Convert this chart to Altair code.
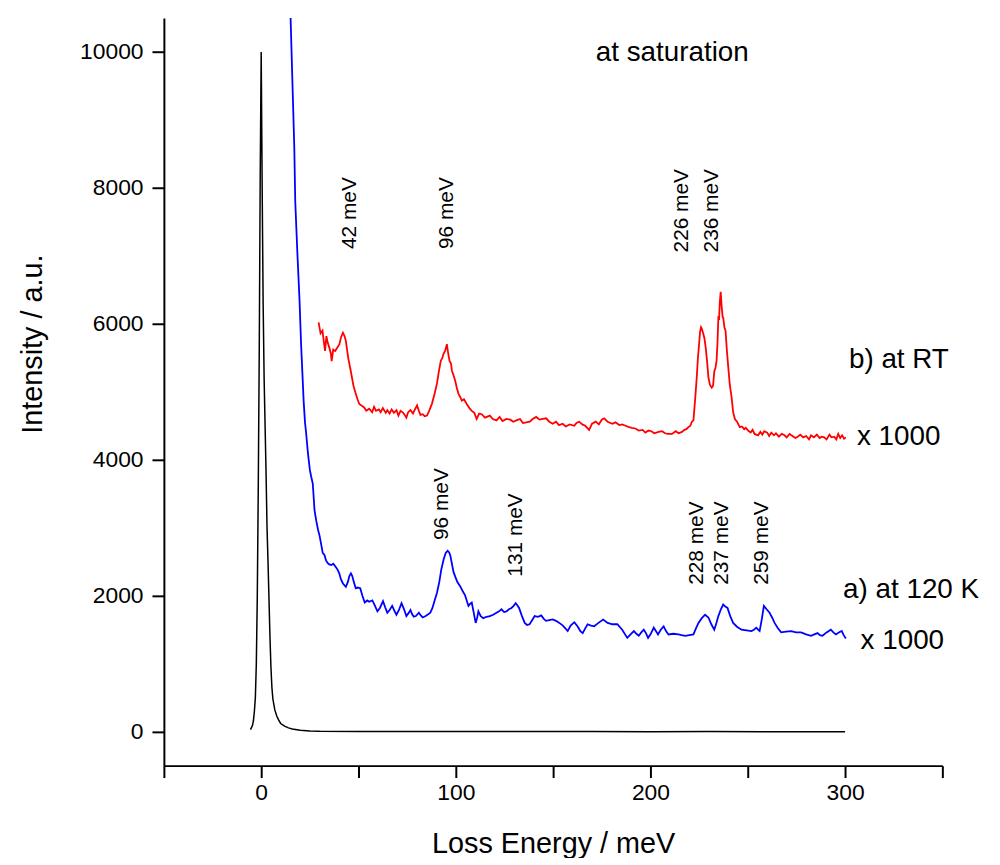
import altair as alt
import pandas as pd

# ---------------- data ----------------
black_x = [-5.5, -4.5, -4, -3.5, -3, -2.5, -2, -1.5, -1, -0.5, 0, 0.5, 1, 1.5, 2, 2.5, 3, 3.5, 4, 4.5,
           5, 5.5, 6, 7, 8, 9, 10, 12, 14, 16, 20, 25, 30, 50, 80, 110, 140, 170, 200, 230, 260, 300]
black_y = [30, 90, 160, 300, 500, 1000, 2000, 3600, 5600, 8200, 10000, 8000, 6300, 5200, 4500, 3800,
           3000, 2500, 1950, 1400, 950, 650, 480, 320, 230, 170, 120, 80, 55, 40, 20, 10, 6, 3, 2, 2, 1, 2, 0, 2, 0, 0]

red_x = [29.5, 30.5, 31.5, 32, 32.8, 33.5, 34.2, 35, 35.8, 36.2, 37, 38, 39.3, 40.2, 41, 42, 42.8, 43.5,
         44.7, 46, 47.4, 48.6, 49.5, 50.4, 51.5, 52.9, 54, 55.5, 57, 58, 59, 60.5, 61.4, 62.5, 64, 64.8,
         66, 67, 68.2, 69.5, 70.5, 71.6, 73, 74.6, 75.5, 76.7, 78, 79, 80.1, 81, 81.8, 83, 84, 85.2, 86.3,
         87.8, 89, 90.3, 91.3, 92.3, 93, 93.7, 94.5, 95.4, 96, 96.8, 97.5, 98, 99, 99.7, 100.5, 101.4,
         102.3, 103.1, 104.2, 105.6, 107, 108.2, 109.5, 110.7, 112, 113.3, 115, 117.5, 119, 120.9, 122.5,
         124, 126, 128, 129.5, 131.1, 133, 134.5, 136.2, 138, 139.5, 141.3, 143, 144.7, 146.4, 148, 149.8,
         151.5, 153, 154.9, 156.5, 158.5, 160.9, 162, 163.4, 165, 166.5, 168.5, 170, 171.9, 173.5, 175,
         176.2, 178, 180.5, 182, 184, 185.5, 187.2, 189, 190.5, 192.3, 194, 196, 197.4, 199, 200.5, 202,
         204.2, 206, 207.5, 209, 211.1, 213, 214.5, 216.2, 217.5, 218.5, 219.5, 220.5, 221.3, 222.1, 223,
         223.8, 224.4, 225, 225.5, 226, 226.5, 227.2, 227.8, 228.4, 229.1, 229.8, 230.6, 231.5, 232.2,
         232.8, 233.4, 234, 234.5, 234.9, 235.3, 235.6, 236.1, 236.6, 237.1, 237.4, 238, 238.6, 239.3, 240,
         240.8, 241.7, 242.5, 243.4, 244.5, 245.9, 247, 248.2, 249, 250.2, 251.5, 252.5, 253.5, 255.3,
         256.5, 257.5, 258.5, 260, 261, 262.1, 263.5, 264.5, 266, 267.5, 268.9, 270, 271.5, 273, 274.5,
         275.7, 277, 278.5, 280, 281.5, 282.5, 284, 285.5, 287, 288, 289.3, 290.5, 292, 293, 294.4, 295.5,
         296.5, 297.5, 298.5, 299.5, 300.4]
red_y = [6020, 5860, 5900, 5780, 5600, 5820, 5720, 5650, 5560, 5450, 5620, 5600, 5660, 5700, 5800, 5870,
         5820, 5750, 5500, 5310, 5090, 4970, 4890, 4820, 4800, 4770, 4720, 4750, 4700, 4780, 4720, 4740,
         4700, 4760, 4690, 4730, 4680, 4740, 4690, 4730, 4650, 4720, 4690, 4620, 4700, 4730, 4680, 4740,
         4800, 4720, 4660, 4670, 4640, 4650, 4720, 4830, 4960, 5120, 5300, 5460, 5490, 5560, 5600, 5700,
         5580, 5450, 5420, 5310, 5230, 5160, 5060, 4970, 4920, 4870, 4890, 4820, 4760, 4720, 4690, 4600,
         4680, 4670, 4620, 4650, 4600, 4580, 4630, 4570, 4600, 4590, 4560, 4580, 4600, 4540, 4550, 4560,
         4600, 4630, 4590, 4600, 4610, 4560, 4530, 4560, 4510, 4530, 4490, 4520, 4500, 4540, 4560, 4520,
         4500, 4440, 4530, 4560, 4520, 4590, 4610, 4560, 4530, 4550, 4510, 4520, 4500, 4480, 4470, 4460,
         4430, 4440, 4400, 4430, 4420, 4390, 4410, 4420, 4390, 4380, 4380, 4420, 4390, 4410, 4440, 4450,
         4480, 4500, 4560, 4580, 4900, 5210, 5500, 5700, 5880, 5950, 5920, 5850, 5780, 5650, 5450, 5210,
         5100, 5060, 5090, 5300, 5350, 5460, 5750, 6090, 6080, 6300, 6470, 6250, 6100, 6090, 5950, 5900,
         5600, 5360, 5100, 4920, 4700, 4600, 4560, 4480, 4490, 4450, 4470, 4430, 4400, 4440, 4380, 4360,
         4410, 4370, 4420, 4400, 4350, 4400, 4360, 4390, 4340, 4380, 4360, 4330, 4380, 4350, 4320, 4340,
         4370, 4330, 4350, 4300, 4360, 4330, 4370, 4320, 4340, 4330, 4300, 4370, 4330, 4340, 4300, 4380,
         4320, 4360, 4310, 4330]

blue_x = [14, 15.1, 16, 17, 17.5, 18.5, 19.7, 20.5, 21.8, 22.5, 23.1, 24, 25, 25.7, 26.5, 27.4, 28.3, 29.2,
          30, 30.8, 31.6, 32.5, 33.3, 34.2, 35, 36, 37, 37.6, 38.4, 39.3, 40.1, 41, 42, 43.5, 44.5, 45.3,
          46.1, 46.8, 47.6, 48.6, 49.5, 50.9, 52, 53.2, 54.5, 55.5, 57.1, 58.3, 59.7, 61, 62.6, 63.7, 64.8,
          66, 67.3, 68.4, 69.5, 70.8, 72.1, 73.4, 74.6, 75.6, 76.7, 77.5, 78.4, 79.5, 81, 82, 83, 84.5, 86,
          86.9, 88, 89, 90.3, 91.5, 92.5, 93.7, 94.8, 95.8, 96.5, 97.1, 98, 98.8, 99.7, 100.8, 102.2, 103.5,
          104.7, 105.6, 106.5, 107.3, 108.2, 109.2, 110.2, 111, 111.6, 112.8, 114.1, 115.8, 117.5, 119.2,
          120.9, 122.2, 123.5, 124.8, 126, 127.3, 128.6, 129.7, 130.8, 131.6, 132.5, 134, 135.4, 136.6,
          137.9, 139.2, 140.5, 142.2, 143.9, 145.2, 146.4, 148, 149.8, 151.5, 153.2, 155, 156.3, 157.5, 159,
          160.9, 162.5, 164, 165.2, 166.5, 167.7, 169.5, 171.1, 173.3, 175.7, 178, 180.5, 183, 185.5, 188.1,
          189.8, 191.5, 192.8, 194, 195.3, 196.6, 197.7, 198.8, 200.2, 201.7, 202.8, 203.9, 205.3, 206.8,
          208, 209.3, 211.8, 214.4, 216, 217.9, 220, 222.1, 223.4, 224.7, 226.4, 228.1, 229.8, 231.3, 232.8,
          233.9, 234.9, 236.2, 237.4, 238.5, 239.6, 241, 242.5, 244.6, 246.8, 249.4, 251.9, 253.2, 254.4,
          255.3, 256.1, 257.2, 258.3, 259.7, 261.2, 262.5, 263.8, 265.5, 267.2, 269.7, 272.3, 274.8, 277.4,
          280, 282.5, 284.2, 285.9, 287.1, 288.4, 290.5, 292.7, 294, 295.3, 296.8, 298.3, 299.3, 300.4]
blue_y = [12500, 10500, 9600, 8600, 7800, 7100, 6340, 5700, 4870, 4550, 4390, 4100, 3850, 3750, 3650, 3260,
          3100, 2970, 2880, 2760, 2630, 2600, 2520, 2480, 2460, 2450, 2470, 2450, 2420, 2380, 2330, 2240,
          2180, 2130, 2200, 2290, 2330, 2290, 2200, 2110, 2120, 2110, 2000, 1900, 1930, 1910, 1930, 1860,
          1770, 1820, 1920, 1830, 1750, 1790, 1850, 1780, 1720, 1790, 1890, 1800, 1700, 1740, 1790, 1730,
          1690, 1700, 1750, 1710, 1680, 1700, 1730, 1750, 1820, 1920, 2040, 2200, 2380, 2530, 2630, 2660,
          2640, 2600, 2470, 2350, 2280, 2200, 2140, 2070, 2010, 1930, 1850, 1880, 1900, 1750, 1600, 1680,
          1770, 1700, 1670, 1690, 1700, 1720, 1750, 1770, 1800, 1760, 1770, 1800, 1820, 1850, 1890, 1860,
          1820, 1700, 1600, 1570, 1580, 1640, 1700, 1690, 1710, 1660, 1630, 1640, 1650, 1630, 1600, 1560,
          1520, 1480, 1560, 1610, 1550, 1480, 1450, 1520, 1580, 1560, 1550, 1600, 1650, 1600, 1580, 1580,
          1500, 1380, 1430, 1480, 1440, 1410, 1460, 1500, 1450, 1380, 1440, 1530, 1480, 1430, 1500, 1550,
          1480, 1430, 1440, 1430, 1420, 1410, 1420, 1430, 1520, 1600, 1670, 1720, 1680, 1580, 1500, 1600,
          1700, 1800, 1870, 1840, 1820, 1700, 1600, 1540, 1500, 1490, 1480, 1500, 1530, 1500, 1480, 1650,
          1850, 1800, 1750, 1680, 1600, 1520, 1460, 1470, 1480, 1460, 1460, 1430, 1410, 1430, 1450, 1420,
          1410, 1460, 1500, 1460, 1430, 1460, 1480, 1420, 1370]

# peak labels (rotated)
peak_text = ["42 meV", "96 meV", "226 meV", "236 meV", "96 meV", "131 meV", "228 meV", "237 meV", "259 meV"]
peak_x = [45.4, 95.4, 216.3, 231.6, 92.9, 131.1, 224.0, 236.7, 257.1]
peak_y = [7100, 7100, 7050, 7050, 2820, 2280, 2160, 2160, 2160]

# horizontal notes
note_text = ["at saturation", "b) at RT", "x 1000", "a) at 120 K", "x 1000"]
note_x = [171.9, 302.0, 306.1, 299.0, 308.0]
note_y = [9863, 5354, 4212, 1972, 1211]

# ---------------- chart ----------------
FONT = "Liberation Sans"
xs = alt.Scale(domain=[-50, 350], nice=False, zero=False)
ys = alt.Scale(domain=[-500, 10500], nice=False, zero=False)

x_axis = alt.Axis(values=list(range(-50, 351, 50)), format="d",
                  labelExpr="datum.value % 100 == 0 ? datum.label : ''",
                  tickSize=12, tickWidth=2, tickColor="black", domainWidth=2, domainColor="black",
                  labelFont=FONT, labelFontSize=23, labelColor="black", labelPadding=4,
                  labelFlush=False, labelOverlap=False, grid=False,
                  title="Loss Energy / meV", titleFont=FONT, titleFontSize=29, titleFontWeight="normal",
                  titleColor="black", titleY=78, titleBaseline="middle")
y_axis = alt.Axis(values=list(range(0, 10001, 2000)), format="d",
                  tickSize=12, tickWidth=2, tickColor="black", domainWidth=2, domainColor="black",
                  labelFont=FONT, labelFontSize=23, labelColor="black", labelPadding=9,
                  labelFlush=False, labelOverlap=False, grid=False,
                  title="Intensity / a.u.", titleFont=FONT, titleFontSize=29, titleFontWeight="normal",
                  titleColor="black", titleX=-132, titleY=328, titleAngle=270,
                  titleAlign="center", titleBaseline="middle")

X = alt.X("x:Q", scale=xs, axis=x_axis)
Y = alt.Y("y:Q", scale=ys, axis=y_axis)

black_df = pd.DataFrame({"x": black_x, "y": black_y})
red_df = pd.DataFrame({"x": red_x, "y": red_y})
blue_df = pd.DataFrame({"x": blue_x, "y": blue_y})
peak_df = pd.DataFrame({"x": peak_x, "y": peak_y, "t": peak_text})
note_df = pd.DataFrame({"x": note_x, "y": note_y, "t": note_text})

black = alt.Chart(black_df).mark_line(color="black", strokeWidth=1.5, clip=True).encode(x=X, y=Y, order="x:Q")
blue = alt.Chart(blue_df).mark_line(color="#0000ff", strokeWidth=1.8, clip=True).encode(x=X, y=Y, order="x:Q")
red = alt.Chart(red_df).mark_line(color="#ff0000", strokeWidth=1.8, clip=True).encode(x=X, y=Y, order="x:Q")

peaks = alt.Chart(peak_df).mark_text(angle=270, align="left", baseline="middle", font=FONT,
                                     fontSize=21, color="black").encode(x=X, y=Y, text="t:N")
notes = alt.Chart(note_df).mark_text(align="left", baseline="alphabetic", font=FONT,
                                     fontSize=28, color="black").encode(x=X, y=Y, text="t:N")

chart = alt.layer(black, blue, red, peaks, notes).properties(
    width=784, height=753,
    autosize=alt.AutoSizeParams(type="none"),
    padding={"left": 157, "top": 7, "right": 50, "bottom": 90},
    background="white",
).configure_view(stroke=None)

chart.save("out.html", embed_options={"renderer": "svg", "actions": False})
